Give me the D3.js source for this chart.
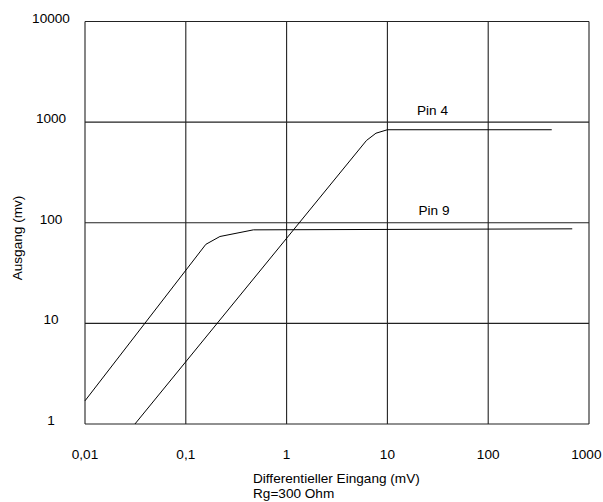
<!DOCTYPE html>
<meta charset="utf-8">
<style>
  body { margin: 0; background: #fff; }
  text { font-family: "Liberation Sans", Arial, sans-serif; font-size: 13.6px; fill: #000; }
</style>
<script src="https://d3js.org/d3.v7.min.js"></script>
<body>
<div id="chart"></div>
</body>
<script>
// data (x in mV, y in mv)
var xTicks = [0.01, 0.1, 1, 10, 100, 1000];
var xTickLabels = ["0,01", "0,1", "1", "10", "100", "1000"];
var yTicks = [1, 10, 100, 1000, 10000];
var yTickLabels = ["1", "10", "100", "1000", "10000"];

var pin9X = [0.01, 0.158, 0.218, 0.468, 682];
var pin9Y = [1.7, 61, 73, 85, 87];
var pin4X = [0.0313, 6.2, 7.7, 10, 427];
var pin4Y = [1, 657, 776, 840, 840];

var seriesNames = ["Pin 4", "Pin 9"];

// set the dimensions and margins of the graph
var margin = {top: 21.5, right: 14, bottom: 78, left: 85},
    width = 603 - margin.left - margin.right,
    height = 502 - margin.top - margin.bottom;

var svg = d3.select("#chart")
  .append("svg")
    .attr("width", 603)
    .attr("height", 502)
  .append("g")
    .attr("transform", "translate(" + margin.left + "," + margin.top + ")");

var x = d3.scaleLog()
  .domain([0.01, 1000])
  .range([0, width]);
var y = d3.scaleLog()
  .domain([1, 10000])
  .range([height, 0]);

// grid
svg.selectAll(".vgrid")
  .data(xTicks)
  .enter()
  .append("line")
    .attr("x1", function(d) { return x(d); })
    .attr("x2", function(d) { return x(d); })
    .attr("y1", 0)
    .attr("y2", height)
    .style("stroke", "#222")
    .style("stroke-width", 1.1);
svg.selectAll(".hgrid")
  .data(yTicks)
  .enter()
  .append("line")
    .attr("x1", 0)
    .attr("x2", width)
    .attr("y1", function(d) { return y(d); })
    .attr("y2", function(d) { return y(d); })
    .style("stroke", "#222")
    .style("stroke-width", 1.1);

// tick labels (last one pushed in so it stays on the page)
svg.selectAll(".xlab")
  .data(xTicks)
  .enter()
  .append("text")
    .attr("x", function(d, i) { return i == xTicks.length - 1 ? x(d) + 12.5 : x(d); })
    .attr("y", height + 35)
    .attr("text-anchor", function(d, i) { return i == xTicks.length - 1 ? "end" : "middle"; })
    .text(function(d, i) { return xTickLabels[i]; });
svg.selectAll(".ylab")
  .data(yTicks)
  .enter()
  .append("text")
    .attr("x", 51 - margin.left)
    .attr("y", function(d) { return y(d) + 1; })
    .attr("text-anchor", "middle")
    .text(function(d, i) { return yTickLabels[i]; });

// axis titles
svg.append("text")
  .attr("x", 253 - margin.left)
  .attr("y", 483 - margin.top)
  .text("Differentieller Eingang (mV)");
svg.append("text")
  .attr("x", 253 - margin.left)
  .attr("y", 498 - margin.top)
  .text("Rg=300 Ohm");
svg.append("text")
  .attr("transform", "translate(" + (22 - margin.left) + "," + (238 - margin.top) + ") rotate(-90)")
  .attr("text-anchor", "middle")
  .text("Ausgang (mv)");

// curves
var line = d3.line()
  .x(function(d) { return x(d[0]); })
  .y(function(d) { return y(d[1]); });

var pin4 = d3.zip(pin4X, pin4Y);
var pin9 = d3.zip(pin9X, pin9Y);

[pin4, pin9].forEach(function(s) {
  svg.append("path")
    .datum(s)
    .attr("d", line)
    .style("fill", "none")
    .style("stroke", "#000")
    .style("stroke-width", 1);
});

// series labels
svg.append("text")
  .attr("x", x(28))
  .attr("y", y(840) - 15)
  .attr("text-anchor", "middle")
  .text(seriesNames[0]);
svg.append("text")
  .attr("x", x(29))
  .attr("y", y(87) - 14)
  .attr("text-anchor", "middle")
  .text(seriesNames[1]);
</script>
</html>
